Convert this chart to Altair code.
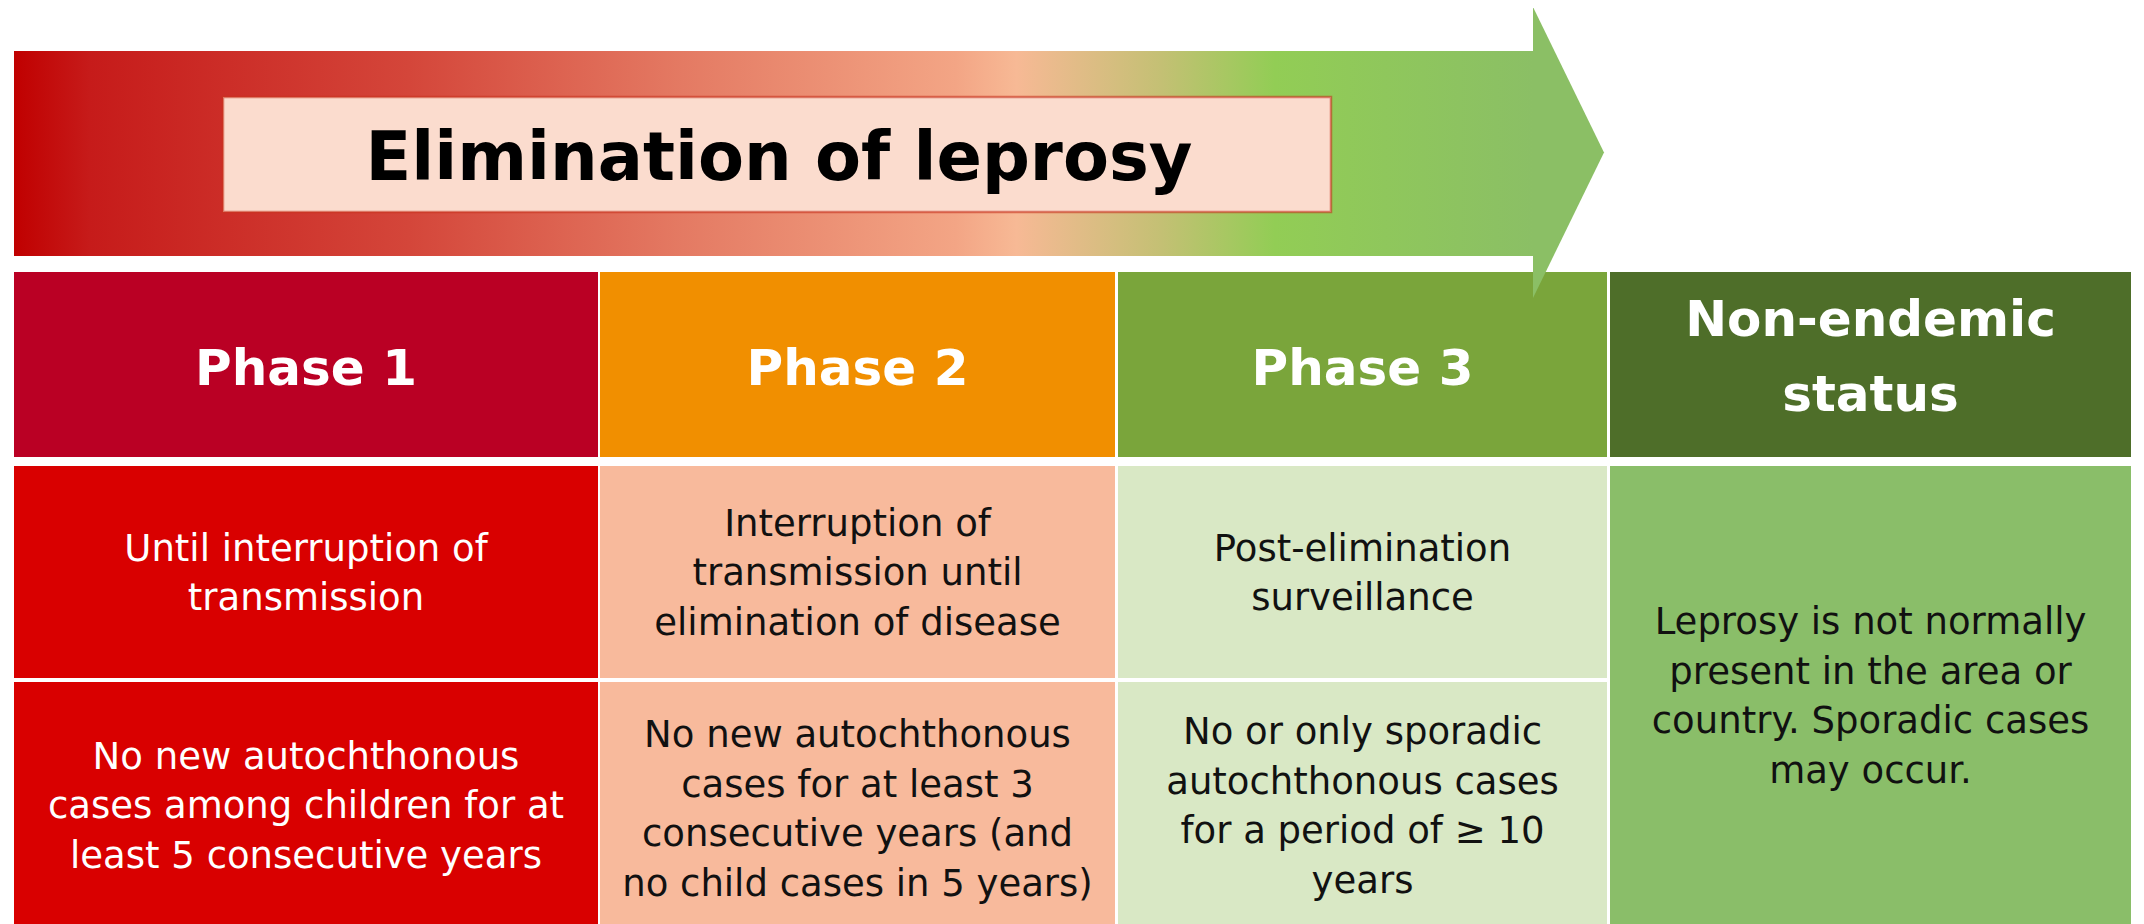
import altair as alt
import pandas as pd

# ---------------- content ----------------
title_text = "Elimination of leprosy"
phase_labels = ["Phase 1", "Phase 2", "Phase 3", "Non-endemic\nstatus"]
row1_texts = [
    "Until interruption of\ntransmission",
    "Interruption of\ntransmission until\nelimination of disease",
    "Post-elimination\nsurveillance",
    "Leprosy is not normally\npresent in the area or\ncountry. Sporadic cases\nmay occur.",
]
row2_texts = [
    "No new autochthonous\ncases among children for at\nleast 5 consecutive years",
    "No new autochthonous\ncases for at least 3\nconsecutive years (and\nno child cases in 5 years)",
    "No or only sporadic\nautochthonous cases\nfor a period of \u2265 10\nyears",
]
header_colors = ["#BA0024", "#F18F00", "#7AA53B", "#4E6E29"]
body_colors = ["#D90000", "#F8BA9C", "#D9E8C5", "#8ABE69"]
body_text_colors = ["#FFFFFF", "#111111", "#111111", "#111111"]
arrow_stop_offsets = [0.0, 0.05, 0.26, 0.44, 0.62, 0.66, 0.755, 0.83, 1.0]
arrow_stop_colors = ["#C00000", "#C61B1A", "#D4463A", "#E47A63", "#F3A585",
                     "#F7B995", "#C4C074", "#92CD55", "#8BBF65"]
title_box_color = "#FBDCCE"
arrow_head_color = "#8BBF65"

# ---------------- layout (reference pixel coordinates) ----------------
col_x0 = [14, 600, 1118, 1610]
col_x1 = [598, 1115, 1607, 2131]
header_top, header_bot = 272, 457
row1_top, row1_bot = 466, 678
row2_top, row2_bot = 682, 924
arrow_x0, arrow_x1, arrow_y0, arrow_y1 = 14, 1533, 51, 256
head_x1, head_top, head_bot = 1604, 7, 298
box_x0, box_x1, box_y0, box_y1 = 223, 1331, 97, 212
header_dy = [2, 2, 2, -9]
body_dy = [0, 3, 0, 0]  # small per-column vertical tweak for row 2

BODY_FS, BODY_LH = 37, 49.5
HEAD_FS, HEAD_LH = 50, 75
TITLE_FS = 67
FONT = "DejaVu Sans"

W, H = 2128, 916
X = alt.Scale(domain=[8, 8 + W], range=[0, W])
Y = alt.Scale(domain=[8, 8 + H], range=[0, H])


def first_baseline(top, bot, text, fs, lh):
    n = text.count("\n") + 1
    return (top + bot) / 2 - (n - 1) * lh / 2 + 0.36 * fs


def rect_enc():
    return dict(
        x=alt.X("x0:Q", scale=X, axis=None),
        x2="x1:Q",
        y=alt.Y("y0:Q", scale=Y, axis=None),
        y2="y1:Q",
        color=alt.Color("c:N", scale=None),
    )


# arrow body
arrow_df = pd.DataFrame({"x0": [arrow_x0], "x1": [arrow_x1], "y0": [arrow_y0], "y1": [arrow_y1]})
grad = alt.LinearGradient(
    gradient="linear",
    stops=[alt.GradientStop(offset=o, color=c) for o, c in zip(arrow_stop_offsets, arrow_stop_colors)],
    x1=0, x2=1, y1=0, y2=0,
)
arrow_body = alt.Chart(arrow_df).mark_rect(fill=grad).encode(
    x=alt.X("x0:Q", scale=X, axis=None), x2="x1:Q",
    y=alt.Y("y0:Q", scale=Y, axis=None), y2="y1:Q",
)

# arrow head (triangle)
head_df = pd.DataFrame({
    "x": [arrow_x1, head_x1],
    "ya": [head_top, (head_top + head_bot) / 2],
    "yb": [head_bot, (head_top + head_bot) / 2],
})
arrow_head = alt.Chart(head_df).mark_area(color=arrow_head_color, opacity=1).encode(
    x=alt.X("x:Q", scale=X, axis=None),
    y=alt.Y("ya:Q", scale=Y, axis=None),
    y2="yb:Q",
)

# title box
box_df = pd.DataFrame({"x0": [box_x0], "x1": [box_x1], "y0": [box_y0], "y1": [box_y1], "c": [title_box_color]})
title_box = alt.Chart(box_df).mark_rect(stroke="#C8331F", strokeWidth=2.5, strokeOpacity=0.6).encode(**rect_enc())

# cells
cells = []
for i in range(4):
    cells.append(dict(x0=col_x0[i], x1=col_x1[i], y0=header_top, y1=header_bot, c=header_colors[i]))
for i in range(3):
    cells.append(dict(x0=col_x0[i], x1=col_x1[i], y0=row1_top, y1=row1_bot, c=body_colors[i]))
    cells.append(dict(x0=col_x0[i], x1=col_x1[i], y0=row2_top, y1=row2_bot, c=body_colors[i]))
cells.append(dict(x0=col_x0[3], x1=col_x1[3], y0=row1_top, y1=row2_bot, c=body_colors[3]))
cell_layer = alt.Chart(pd.DataFrame(cells)).mark_rect().encode(**rect_enc())

# texts
title_df = pd.DataFrame({"x": [(box_x0 + box_x1) / 2 + 2],
                         "y": [first_baseline(box_y0, box_y1, title_text, TITLE_FS, 0) + 1],
                         "t": [title_text]})
title_layer = alt.Chart(title_df).mark_text(
    font=FONT, fontSize=TITLE_FS, fontWeight="bold", color="#000000",
    align="center", baseline="alphabetic",
).encode(x=alt.X("x:Q", scale=X, axis=None), y=alt.Y("y:Q", scale=Y, axis=None), text="t:N")

head_rows = []
for i, lab in enumerate(phase_labels):
    head_rows.append(dict(
        x=(col_x0[i] + col_x1[i]) / 2,
        y=first_baseline(header_top, header_bot, lab, HEAD_FS, HEAD_LH) + header_dy[i],
        t=lab,
    ))
head_text = alt.Chart(pd.DataFrame(head_rows)).mark_text(
    font=FONT, fontSize=HEAD_FS, fontWeight="bold", color="#FFFFFF",
    align="center", baseline="alphabetic", lineBreak="\n", lineHeight=HEAD_LH,
).encode(x=alt.X("x:Q", scale=X, axis=None), y=alt.Y("y:Q", scale=Y, axis=None), text="t:N")

body_rows = []
for i in range(3):
    body_rows.append(dict(x=(col_x0[i] + col_x1[i]) / 2,
                          y=first_baseline(row1_top, row1_bot, row1_texts[i], BODY_FS, BODY_LH),
                          t=row1_texts[i], c=body_text_colors[i]))
    body_rows.append(dict(x=(col_x0[i] + col_x1[i]) / 2,
                          y=first_baseline(row2_top, row2_bot, row2_texts[i], BODY_FS, BODY_LH) + body_dy[i] + 2,
                          t=row2_texts[i], c=body_text_colors[i]))
body_rows.append(dict(x=(col_x0[3] + col_x1[3]) / 2,
                      y=first_baseline(row1_top, row2_bot, row1_texts[3], BODY_FS, BODY_LH),
                      t=row1_texts[3], c=body_text_colors[3]))
body_text = alt.Chart(pd.DataFrame(body_rows)).mark_text(
    font=FONT, fontSize=BODY_FS, align="center", baseline="alphabetic",
    lineBreak="\n", lineHeight=BODY_LH,
).encode(
    x=alt.X("x:Q", scale=X, axis=None), y=alt.Y("y:Q", scale=Y, axis=None),
    text="t:N", color=alt.Color("c:N", scale=None),
)

chart = alt.layer(
    arrow_body, title_box, cell_layer, arrow_head, title_layer, head_text, body_text
).properties(
    width=W, height=H, padding=0, autosize=alt.AutoSizeParams(type="none"),
    background="#FFFFFF",
).configure_view(stroke=None)

chart.save("out.html", embed_options={"renderer": "svg", "actions": False})
